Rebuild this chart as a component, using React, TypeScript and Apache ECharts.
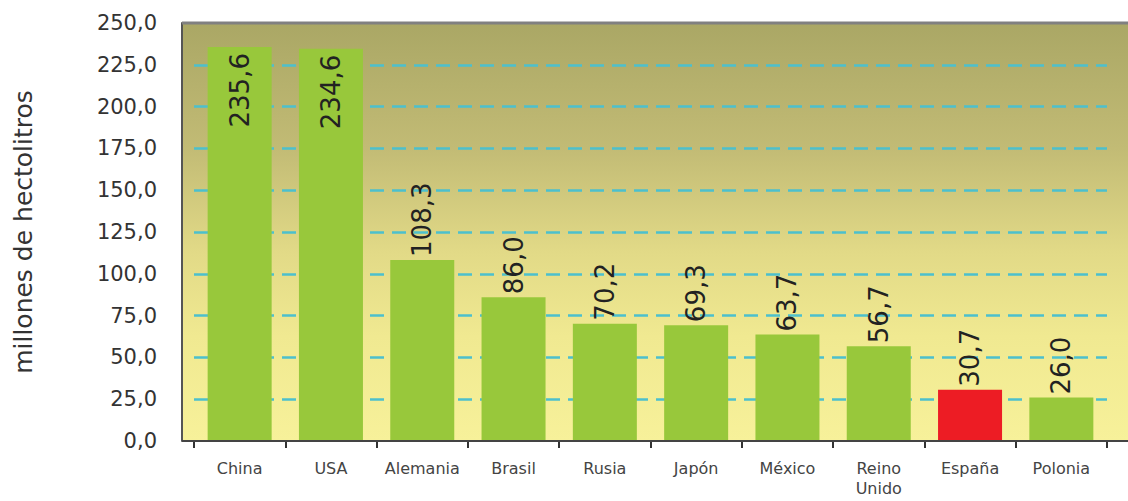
import React, { useEffect, useRef } from "react";
import * as echarts from "echarts";

const categories = ["China", "USA", "Alemania", "Brasil", "Rusia", "Japón", "México", "Reino\nUnido", "España", "Polonia"];
const values = [235.6, 234.6, 108.3, 86.0, 70.2, 69.3, 63.7, 56.7, 30.7, 26.0];
const highlight = ["España"];
const insideLabels = ["China", "USA"];
const yAxisName = "millones de hectolitros";

const fmt = (v: number) => v.toFixed(1).replace(".", ",");

export default function App() {
  const ref = useRef<HTMLDivElement>(null);
  useEffect(() => {
    document.body.style.margin = "0";
    const chart = echarts.init(ref.current!, null, { renderer: "svg" });
    const data = values.map((v, i) => {
      const inside = insideLabels.includes(categories[i]);
      return {
        value: v,
        itemStyle: { color: highlight.includes(categories[i]) ? "#ed1c24" : "#98c83b" },
        label: inside
          ? { position: "insideTop", align: "right", distance: 6 }
          : { position: "top", align: "left", distance: 3 },
      };
    });
    chart.setOption({
      animation: false,
      graphic: [
        {
          type: "rect",
          z: -100,
          shape: { x: 182, y: 23, width: 946, height: 418 },
          style: {
            fill: new echarts.graphic.LinearGradient(0, 0, 0, 1, [
              { offset: 0, color: "#aaa765" },
              { offset: 0.3, color: "#c2bb75" },
              { offset: 0.55, color: "#e2da87" },
              { offset: 0.75, color: "#f0e991" },
              { offset: 1, color: "#f7f19a" },
            ]),
          },
        },
        {
          type: "line",
          z: 10,
          shape: { x1: 182, y1: 23, x2: 1128, y2: 23 },
          style: { stroke: "#808080", lineWidth: 3 },
        },
        {
          type: "line",
          z: 10,
          shape: { x1: 182, y1: 441, x2: 1128, y2: 441 },
          style: { stroke: "#444", lineWidth: 2 },
        },
      ],
      grid: {
        left: 194,
        right: 21,
        top: 23,
        bottom: 60,
        containLabel: false,
        outerBoundsMode: "none",
      },
      xAxis: {
        type: "category",
        data: categories,
        axisLine: { show: false },
        axisTick: { show: true, length: 7, lineStyle: { color: "#333", width: 2 } },
        axisLabel: {
          interval: 0,
          color: "#444",
          fontFamily: "DejaVu Sans",
          fontSize: 16,
          margin: 17,
          lineHeight: 20,
        },
      },
      yAxis: {
        type: "value",
        min: 0,
        max: 250,
        interval: 25,
        offset: 12,
        name: yAxisName,
        nameLocation: "middle",
        nameGap: 146,
        nameTextStyle: { fontFamily: "DejaVu Sans", fontSize: 25, color: "#333" },
        axisLine: { show: true, lineStyle: { color: "#555", width: 2 } },
        axisTick: { show: false },
        axisLabel: {
          formatter: (v: number) => fmt(v),
          color: "#333",
          fontFamily: "DejaVu Sans",
          fontSize: 21,
          margin: 25,
        },
        splitLine: {
          show: true,
          showMinLine: false,
          showMaxLine: false,
          lineStyle: { color: "#4cc0cd", width: 2.5, type: [14, 8] },
        },
      },
      series: [
        {
          type: "bar",
          data,
          barWidth: 64,
          label: {
            show: true,
            rotate: 90,
            verticalAlign: "middle",
            formatter: (p: any) => fmt(p.value),
            fontFamily: "DejaVu Sans",
            fontSize: 26,
            color: "#222",
          },
        },
      ],
    });
    return () => chart.dispose();
  }, []);
  return <div ref={ref} style={{ width: 1128, height: 501 }} />;
}
